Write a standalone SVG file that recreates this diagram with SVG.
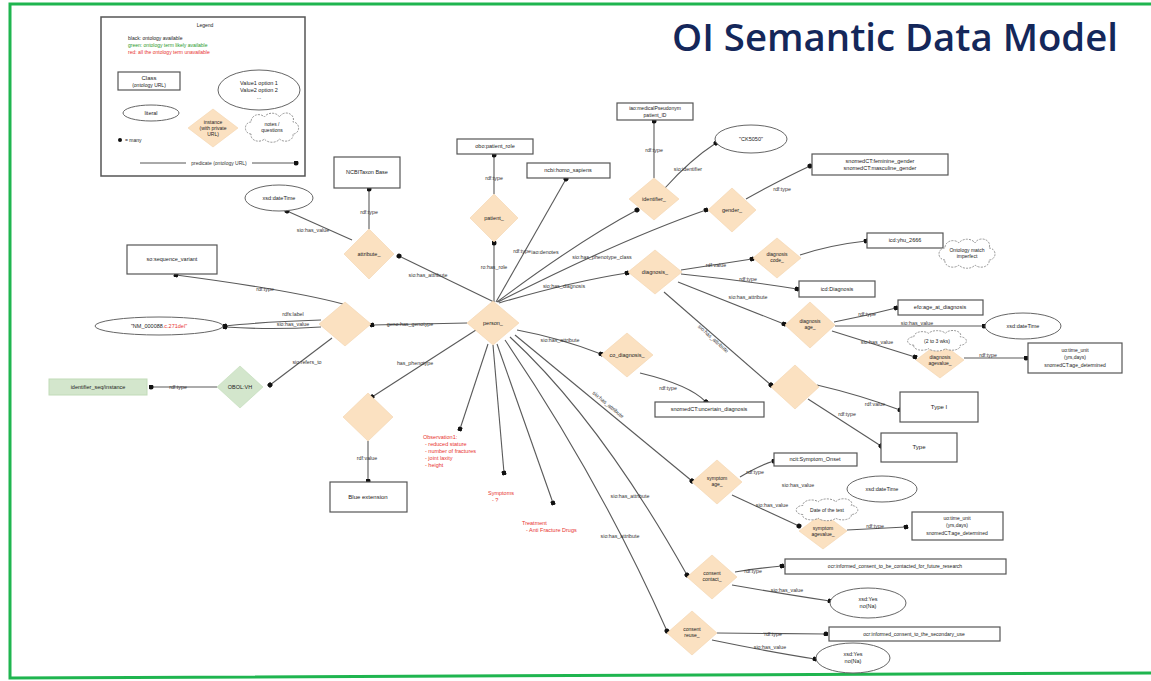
<svg xmlns="http://www.w3.org/2000/svg" width="1151" height="681" viewBox="0 0 1151 681">
<style>
text{font-family:"Liberation Sans",Arial,sans-serif;fill:#222}
.lbl{font-size:5.3px;fill:#333;text-anchor:middle}
.nt{font-size:5.5px;text-anchor:middle}
.dia{fill:#fbe1c1;stroke:#f3d3ac;stroke-width:0.6}
.gdia{fill:#d3e6cc;stroke:#c1dbb8;stroke-width:0.6}
.box{fill:#fff;stroke:#555;stroke-width:1.2}
.ell{fill:#fff;stroke:#666;stroke-width:1}
.cloud{fill:#fff;stroke:#888;stroke-width:0.9;stroke-dasharray:2 1.2}
.e{fill:none;stroke:#5a5a5a;stroke-width:1.1;marker-end:url(#dot)}
.red{fill:#e8332f;font-size:5.5px}
</style>
<defs>
<marker id="dot" viewBox="0 0 6 6" refX="3" refY="3" markerWidth="5" markerHeight="5" markerUnits="userSpaceOnUse" orient="auto">
<circle cx="3" cy="3" r="3" fill="#111"/>
</marker>
<path id="cloudshape" d="M-22,6 a6,6 0 0 1 0,-12 a8,7 0 0 1 14,-5 a9,7 0 0 1 16,0 a7,6 0 0 1 14,5 a6,6 0 0 1 0,12 a8,6 0 0 1 -14,5 a9,6 0 0 1 -16,0 a8,6 0 0 1 -14,-5 z" fill="#fff" stroke="#888" stroke-width="0.9" stroke-dasharray="2 1.2" vector-effect="non-scaling-stroke"/>
</defs>
<rect width="1151" height="681" fill="#fff"/>
<path d="M1151,4 L10,4 L10,678 L1151,673" fill="none" stroke="#1fb54f" stroke-width="3"/>
<text x="672" y="51" font-family="'Open Sans',sans-serif" font-weight="600" font-size="37" textLength="446" lengthAdjust="spacingAndGlyphs" style="fill:#14275a;font-family:'Open Sans',sans-serif">OI Semantic Data Model</text>

<g id="legend">
<rect x="101" y="17" width="204" height="159" fill="#fff" stroke="#555" stroke-width="1.5"/>
<text x="205" y="27" class="nt" style="font-size:5px">Legend</text>
<text x="128" y="40" style="font-size:5px">black: ontology available</text>
<text x="128" y="47" style="font-size:5px;fill:#2a9a2a">green: ontology term likely available</text>
<text x="128" y="54" style="font-size:5px;fill:#e8332f">red: all the ontology term unavailable</text>
<rect x="118" y="72" width="62" height="18" class="box"/>
<text x="149" y="80" class="nt" style="font-size:6px">Class</text>
<text x="149" y="87" class="nt" style="font-size:5px">(ontology URL)</text>
<ellipse cx="259" cy="90" rx="41" ry="20" class="ell"/>
<text x="259" y="85" class="nt">Value1 option 1</text>
<text x="259" y="92" class="nt">Value2 option 2</text>
<text x="259" y="99" class="nt">...</text>
<ellipse cx="151" cy="113" rx="28" ry="8" class="ell"/>
<text x="151" y="115" class="nt">literal</text>
<polygon points="213,109 238,128 213,147 188,128" class="dia"/>
<text x="213" y="124" class="nt" style="font-size:5px">instance</text>
<text x="213" y="130" class="nt" style="font-size:5px">(with private</text>
<text x="213" y="136" class="nt" style="font-size:5px">URL)</text>
<use href="#cloudshape" transform="translate(272,128) scale(0.95,1)"/>
<text x="272" y="126" class="nt" style="font-size:5px">notes /</text>
<text x="272" y="132" class="nt" style="font-size:5px">questions</text>
<circle cx="120" cy="140" r="2" fill="#111"/>
<text x="125" y="142" style="font-size:5px">= many</text>
<line x1="140" y1="163" x2="296" y2="163" stroke="#555" stroke-width="1" marker-end="url(#dot)"/>
<rect x="186" y="160" width="66" height="6" fill="#fff"/>
<text x="219" y="165" class="lbl" style="font-size:5px">predicate (ontology URL)</text>
</g>

<g id="connectors">
<path class="e" d="M494,302 L399,256"/>
<path class="e" d="M369,229 L369,189"/>
<path class="e" d="M352,240 L287,211"/>
<path class="e" d="M494,302 L494,243"/>
<path class="e" d="M494,194 L494,155"/>
<path class="e" d="M496,302 L566,179"/>
<path class="e" d="M497,302 Q580,240 637,210"/>
<path class="e" d="M654,178 L654,121"/>
<path class="e" d="M665,188 Q690,160 716,143"/>
<path class="e" d="M498,302 Q620,240 706,210"/>
<path class="e" d="M746,199 Q780,180 810,166"/>
<path class="e" d="M499,303 Q570,282 627,273"/>
<path class="e" d="M681,270 L752,259"/>
<path class="e" d="M800,255 Q830,245 866,241"/>
<path class="e" d="M681,274 Q740,280 797,289"/>
<path class="e" d="M678,282 L784,324"/>
<path class="e" d="M834,322 Q865,316 896,308"/>
<path class="e" d="M835,326 L984,326"/>
<path class="e" d="M832,331 L915,357"/>
<path class="e" d="M964,358 L1026,358"/>
<path class="e" d="M664,292 L771,385"/>
<path class="e" d="M817,385 Q860,395 900,410"/>
<path class="e" d="M808,399 L881,446"/>
<path class="e" d="M517,330 Q560,338 601,354"/>
<path class="e" d="M640,373 Q690,385 706,402"/>
<path class="e" d="M515,335 L692,481"/>
<path class="e" d="M740,477 Q760,465 774,461"/>
<path class="e" d="M732,495 L799,526"/>
<path class="e" d="M847,530 L906,527"/>
<path class="e" d="M510,337 Q600,420 687,575"/>
<path class="e" d="M735,572 Q760,568 782,566"/>
<path class="e" d="M732,585 Q790,595 830,601"/>
<path class="e" d="M505,340 Q600,480 667,631"/>
<path class="e" d="M717,633 L826,634"/>
<path class="e" d="M712,640 Q770,652 815,659"/>
<path class="e" d="M467,323 L372,325"/>
<path class="e" d="M343,304 Q290,290 176,275"/>
<path class="e" d="M321,320 Q260,322 225,326"/>
<path class="e" d="M321,327 Q270,330 225,327"/>
<path class="e" d="M332,338 L270,385"/>
<path class="e" d="M217,387 L151,387"/>
<path class="e" d="M476,330 L372,397"/>
<path class="e" d="M368,441 L368,481"/>
<path class="e" d="M488,344 L460,429"/>
<path class="e" d="M493,345 L504,473"/>
<path class="e" d="M497,344 L553,503"/>
</g>

<g id="edge-labels">
<text x="428" y="277" class="lbl">sio:has_attribute</text>
<text x="369" y="214" class="lbl">rdf:type</text>
<text x="313" y="232" class="lbl">sio:has_value</text>
<text x="494" y="269" class="lbl">ro:has_role</text>
<text x="494" y="180" class="lbl">rdf:type</text>
<text x="522" y="253" class="lbl">rdf:type</text>
<text x="545" y="254" class="lbl">iao:denotes</text>
<text x="654" y="152" class="lbl">rdf:type</text>
<text x="688" y="171" class="lbl">sio:identifier</text>
<text x="602" y="259" class="lbl">sio:has_phenotype_class</text>
<text x="782" y="191" class="lbl">rdf:type</text>
<text x="564" y="288" class="lbl">sio:has_diagnosis</text>
<text x="716" y="267" class="lbl">rdf:value</text>
<text x="748" y="281" class="lbl">rdf:type</text>
<text x="748" y="299" class="lbl">sio:has_attribute</text>
<text x="867" y="316" class="lbl">rdf:type</text>
<text x="917" y="325" class="lbl">sio:has_value</text>
<text x="877" y="344" class="lbl">sio:has_value</text>
<text x="988" y="357" class="lbl">rdf:type</text>
<text x="712" y="340" class="lbl" transform="rotate(42 712 340)">sio:has_attribute</text>
<text x="875" y="406" class="lbl">rdf:value</text>
<text x="847" y="416" class="lbl">rdf:type</text>
<text x="560" y="342" class="lbl">sio:has_attribute</text>
<text x="668" y="390" class="lbl">rdf:type</text>
<text x="607" y="406" class="lbl" transform="rotate(40 607 406)">sio:has_attribute</text>
<text x="755" y="474" class="lbl">rdf:type</text>
<text x="798" y="487" class="lbl">sio:has_value</text>
<text x="772" y="507" class="lbl">sio:has_value</text>
<text x="875" y="528" class="lbl">rdf:type</text>
<text x="630" y="498" class="lbl">sio:has_attribute</text>
<text x="753" y="573" class="lbl">rdf:type</text>
<text x="787" y="592" class="lbl">sio:has_value</text>
<text x="620" y="538" class="lbl">sio:has_attribute</text>
<text x="773" y="636" class="lbl">rdf:type</text>
<text x="770" y="649" class="lbl">sio:has_value</text>
<text x="410" y="326" class="lbl">geno:has_genotype</text>
<text x="265" y="291" class="lbl">rdf:type</text>
<text x="293" y="316" class="lbl">rdfs:label</text>
<text x="293" y="326" class="lbl">sio:has_value</text>
<text x="307" y="364" class="lbl">sio:refers_to</text>
<text x="178" y="389" class="lbl">rdf:type</text>
<text x="415" y="365" class="lbl">has_phenotype</text>
<text x="367" y="460" class="lbl">rdf:value</text>
</g>

<g id="person"><polygon points="493,301 519,323 493,345 467,323" class="dia"/><text x="493" y="325" class="nt">person_</text></g>
<g id="attribute"><polygon points="369,229 394,254 369,279 344,254" class="dia"/><text x="369" y="256" class="nt">attribute_</text></g>
<g id="ncbitaxon"><rect x="334" y="157" width="66" height="31" class="box"/><text x="367" y="174" class="nt">NCBITaxon Base</text></g>
<g id="xsd-datetime-1"><ellipse cx="279" cy="198" rx="34" ry="13" class="ell"/><text x="279" y="200" class="nt">xsd:dateTime</text></g>
<g id="patient"><polygon points="494,194 518,218 494,242 470,218" class="dia"/><text x="494" y="220" class="nt">patient_</text></g>
<g id="patient-role"><rect x="457" y="139" width="76" height="15" class="box"/><text x="495" y="148" class="nt">obo:patient_role</text></g>
<g id="homo-sapiens"><rect x="527" y="163" width="83" height="15" class="box"/><text x="568" y="172" class="nt">ncbi:homo_sapiens</text></g>
<g id="identifier"><polygon points="654,178 679,199 654,220 629,199" class="dia"/><text x="654" y="201" class="nt">identifier_</text></g>
<g id="pseudonym"><rect x="617" y="103" width="76" height="17" class="box"/><text x="655" y="110" class="nt" style="font-size:5px">iao:medicalPseudonym</text><text x="655" y="117" class="nt" style="font-size:5px">patient_ID</text></g>
<g id="ck5050"><ellipse cx="751" cy="139" rx="36" ry="14" class="ell"/><text x="751" y="141" class="nt">"CK5050"</text></g>
<g id="gender"><polygon points="732,188 756,210 732,232 708,210" class="dia"/><text x="732" y="212" class="nt">gender_</text></g>
<g id="gender-box"><rect x="812" y="154" width="136" height="21" class="box"/><text x="880" y="163" class="nt">snomedCT:feminine_gender</text><text x="880" y="170" class="nt">snomedCT:masculine_gender</text></g>
<g id="diagnosis"><polygon points="655,250 682,272 655,294 628,272" class="dia"/><text x="655" y="274" class="nt">diagnosis_</text></g>
<g id="diagnosis-code"><polygon points="777,238 801,258 777,278 753,258" class="dia"/><text x="777" y="256" class="nt" style="font-size:5px">diagnosis</text><text x="777" y="262" class="nt" style="font-size:5px">code_</text></g>
<g id="icd-code"><rect x="867" y="233" width="76" height="15" class="box"/><text x="905" y="242" class="nt">icd:yhu_2666</text></g>
<g id="note-match"><use href="#cloudshape" transform="translate(967,254)"/><text x="967" y="252" class="nt" style="font-size:5px">Ontology match</text><text x="967" y="258" class="nt" style="font-size:5px">imperfect</text></g>
<g id="icd-diagnosis"><rect x="799" y="281" width="76" height="16" class="box"/><text x="837" y="291" class="nt">icd:Diagnosis</text></g>
<g id="diagnosis-age"><polygon points="810,302 835,325 810,348 785,325" class="dia"/><text x="810" y="323" class="nt" style="font-size:5px">diagnosis</text><text x="810" y="329" class="nt" style="font-size:5px">age_</text></g>
<g id="age-at-diagnosis"><rect x="898" y="300" width="85" height="15" class="box"/><text x="940" y="309" class="nt">efo:age_at_diagnosis</text></g>
<g id="xsd-datetime-2"><ellipse cx="1023" cy="326" rx="38" ry="13" class="ell"/><text x="1023" y="328" class="nt">xsd:dateTime</text></g>
<g id="diagnosis-agevalue"><polygon points="940,342 964,360 940,378 916,360" class="dia"/><text x="940" y="359" class="nt" style="font-size:5px">diagnosis</text><text x="940" y="365" class="nt" style="font-size:5px">agevalue_</text></g>
<g id="note-weeks"><use href="#cloudshape" transform="translate(937,341) scale(1.05,0.7)"/><text x="937" y="343" class="nt" style="font-size:5px">(2 to 3 wks)</text></g>
<g id="age-unit-1"><rect x="1028" y="343" width="94" height="30" class="box"/><text x="1075" y="352" class="nt" style="font-size:5px">uo:time_unit</text><text x="1075" y="359" class="nt" style="font-size:5px">(yrs,days)</text><text x="1075" y="367" class="nt" style="font-size:5px">snomedCT:age_determined</text></g>
<g id="type-attr"><polygon points="795,365 819,387 795,409 771,387" class="dia"/></g>
<g id="type-1"><rect x="900" y="392" width="78" height="30" class="box"/><text x="939" y="409" class="nt" style="font-size:6px">Type I</text></g>
<g id="type"><rect x="881" y="433" width="76" height="29" class="box"/><text x="919" y="449" class="nt" style="font-size:6px">Type</text></g>
<g id="co-diagnosis"><polygon points="627,333 653,355 627,377 601,355" class="dia"/><text x="627" y="357" class="nt">co_diagnosis_</text></g>
<g id="uncertain-diagnosis"><rect x="655" y="402" width="109" height="15" class="box"/><text x="709" y="411" class="nt">snomedCT:uncertain_diagnosis</text></g>
<g id="symptom-age"><polygon points="717,460 742,482 717,504 692,482" class="dia"/><text x="717" y="480" class="nt" style="font-size:5px">symptom</text><text x="717" y="486" class="nt" style="font-size:5px">age_</text></g>
<g id="symptom-onset"><rect x="774" y="453" width="83" height="13" class="box"/><text x="815" y="461" class="nt">ncit:Symptom_Onset</text></g>
<g id="xsd-datetime-3"><ellipse cx="882" cy="489" rx="35" ry="13" class="ell"/><text x="882" y="491" class="nt">xsd:dateTime</text></g>
<g id="symptom-agevalue"><polygon points="823,513 847,531 823,549 799,531" class="dia"/><text x="823" y="530" class="nt" style="font-size:5px">symptom</text><text x="823" y="536" class="nt" style="font-size:5px">agevalue_</text></g>
<g id="note-date"><use href="#cloudshape" transform="translate(827,510) scale(1.1,0.75)"/><text x="827" y="512" class="nt" style="font-size:5px">Date of the test</text></g>
<g id="age-unit-2"><rect x="912" y="512" width="91" height="28" class="box"/><text x="957" y="520" class="nt" style="font-size:5px">uo:time_unit</text><text x="957" y="527" class="nt" style="font-size:5px">(yrs,days)</text><text x="957" y="535" class="nt" style="font-size:5px">snomedCT:age_determined</text></g>
<g id="consent-contact"><polygon points="712,555 737,577 712,599 687,577" class="dia"/><text x="712" y="575" class="nt" style="font-size:5px">consent</text><text x="712" y="581" class="nt" style="font-size:5px">contact_</text></g>
<g id="consent-contact-type"><rect x="785" y="559" width="221" height="15" class="box"/><text x="895" y="568" class="nt" style="font-size:5px">ocr:informed_consent_to_be_contacted_for_future_research</text></g>
<g id="yesno-1"><ellipse cx="868" cy="603" rx="38" ry="15" class="ell"/><text x="868" y="601" class="nt">xsd:Yes</text><text x="868" y="608" class="nt">no(Na)</text></g>
<g id="consent-reuse"><polygon points="692,611 717,633 692,655 667,633" class="dia"/><text x="692" y="631" class="nt" style="font-size:5px">consent</text><text x="692" y="637" class="nt" style="font-size:5px">reuse_</text></g>
<g id="consent-reuse-type"><rect x="829" y="627" width="171" height="14" class="box"/><text x="914" y="636" class="nt" style="font-size:5px">ocr:informed_consent_to_the_secondary_use</text></g>
<g id="yesno-2"><ellipse cx="853" cy="658" rx="37" ry="15" class="ell"/><text x="853" y="656" class="nt">xsd:Yes</text><text x="853" y="663" class="nt">no(Na)</text></g>
<g id="genotype"><polygon points="345,302 371,324 345,346 319,324" class="dia"/></g>
<g id="sequence-variant"><rect x="127" y="245" width="90" height="29" class="box"/><text x="172" y="261" class="nt">so:sequence_variant</text></g>
<g id="variant-literal"><ellipse cx="159" cy="326" rx="64" ry="9" class="ell"/><text x="159" y="328" class="nt">"NM_000088<tspan style="fill:#e8332f">.c.271del"</tspan></text></g>
<g id="obo-vh"><polygon points="240,366 263,387 240,408 217,387" class="gdia"/><text x="240" y="389" class="nt">OBOL:VH</text></g>
<g id="identifier-seq"><rect x="49" y="379" width="98" height="16" fill="#d3e6cc" stroke="#c1dbb8"/><text x="98" y="389" class="nt">identifier_seq/instance</text></g>
<g id="phenotype"><polygon points="368,393 393,417 368,441 343,417" class="dia"/></g>
<g id="blue-extension"><rect x="330" y="482" width="77" height="30" class="box"/><text x="368" y="499" class="nt" style="font-size:6px">Blue extension</text></g>
<g id="observation"><text x="423" y="439" class="red">Observation1:</text><text x="425" y="446" class="red">- reduced stature</text><text x="425" y="453" class="red">- number of fractures</text><text x="425" y="460" class="red">- joint laxity</text><text x="425" y="467" class="red">- height</text></g>
<g id="symptoms"><text x="488" y="495" class="red">Symptoms</text><text x="492" y="502" class="red">- ?</text></g>
<g id="treatment"><text x="522" y="525" class="red">Treatment</text><text x="526" y="532" class="red">- Anti Fracture Drugs</text></g>
</svg>
